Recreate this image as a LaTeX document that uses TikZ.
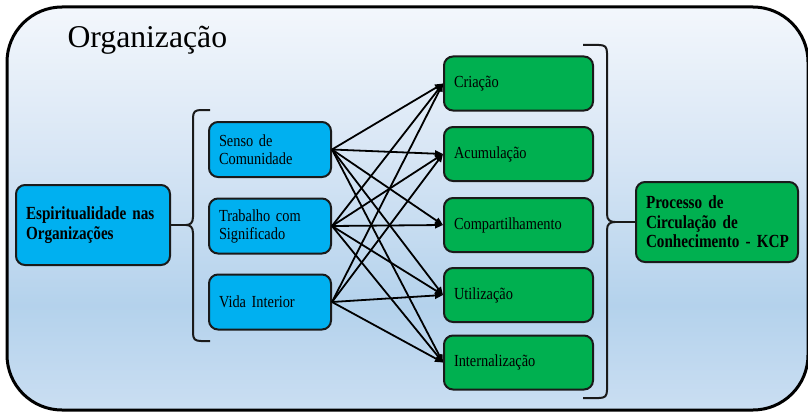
\documentclass[tikz,border=0pt]{standalone}
\usepackage{fontspec}
\setmainfont{Liberation Serif}
\newfontfamily\boxfont{Liberation Serif}[FakeStretch=0.85]
\newfontfamily\boldboxfont{Liberation Serif}[FakeStretch=0.82]
\newcommand\myregfont{\boxfont\fontsize{16.9}{18}\selectfont\spaceskip=3.6pt plus 1pt minus 0.5pt\relax}
\newcommand\myboldfont{\boldboxfont\fontsize{18.5}{19.5}\selectfont\bfseries\spaceskip=3.8pt plus 1pt minus 0.5pt\relax}
\usetikzlibrary{arrows.meta}
\definecolor{bfill}{HTML}{00B0F0}
\definecolor{gfill}{HTML}{00B050}
\definecolor{boxline}{HTML}{1A1A1A}
\definecolor{bgtop}{HTML}{F3F7FC}
\definecolor{bgupper}{HTML}{D8E6F5}
\definecolor{bgmid}{HTML}{B4D2EC}
\definecolor{bgbot}{HTML}{CADEF2}
\pgfdeclareverticalshading{orgshade}{100bp}{color(0bp)=(bgbot); color(25bp)=(bgbot); color(38bp)=(bgmid); color(57bp)=(bgupper); color(75bp)=(bgtop); color(100bp)=(bgtop)}
\tikzset{
  box/.style={draw=boxline, line width=2pt, rounded corners=9pt, inner xsep=10pt, inner ysep=0pt, align=left, font=\myregfont},
  bbox/.style={box, fill=bfill, text width=102pt, minimum height=55pt},
  gbox/.style={box, fill=gfill, text width=129pt, minimum height=54pt},
  boldtxt/.style={font=\myboldfont},
  arr/.style={line width=1.8pt, -{Triangle[length=8pt,width=6.5pt]}},
  brace/.style={line width=2pt, draw=boxline}
}
\begin{document}
\begin{tikzpicture}[x=1pt,y=-1pt]
\useasboundingbox (0,0) rectangle (808,412);
\shade[shading=orgshade, draw=black, line width=3pt, rounded corners=55pt] (7,7) rectangle (808,410);
\node[anchor=base west, font=\fontsize{31.7}{36}\selectfont] (title) at (64,48) {Organização};

\node[box, fill=bfill, boldtxt, text width=134pt, minimum height=80pt] (esp) at (93,225) {\mbox{Espiritualidade nas}\\\mbox{Organizações}};
\node[bbox] (senso) at (270,149.5) {\mbox{Senso de}\\Comunidade};
\node[bbox] (trab) at (270,226) {\mbox{Trabalho com}\\Significado};
\node[bbox] (vida) at (270,302) {\mbox{Vida Interior}};

\node[gbox] (cri) at (518.5,83.5) {Criação};
\node[gbox] (acu) at (518.5,154) {Acumulação};
\node[gbox] (comp) at (518.5,225) {Compartilhamento};
\node[gbox] (util) at (518.5,295) {Utilização};
\node[gbox] (intern) at (518.5,362.5) {Internalização};

\node[box, fill=gfill, boldtxt, text width=142pt, minimum height=80pt] (kcp) at (717,222) {\mbox{Processo de}\\\mbox{Circulação de}\\\mbox{Conhecimento - KCP}};

% left brace
\coordinate (lb) at (186,225);
\draw[brace] (210,110) -- (201,110) .. controls (195,110) and (193,112) .. (193,118) -- (193,217)
  .. controls (193,223) and (190,225) .. (lb)
  .. controls (190,225) and (193,227) .. (193,233) -- (193,333)
  .. controls (193,339) and (195,341) .. (201,341) -- (210,341);
\draw[brace] (esp.east) -- (lb);

% right brace
\coordinate (rb) at (615,222);
\draw[brace] (583,45) -- (599,45) .. controls (605,45) and (607,47) .. (607,53) -- (607,214)
  .. controls (607,220) and (610,222) .. (rb)
  .. controls (610,222) and (607,224) .. (607,230) -- (607,390)
  .. controls (607,396) and (605,398) .. (599,398) -- (583,398);
\draw[brace] (rb) -- (kcp.west);

% arrows
\foreach \s/\t in {senso/cri, senso/acu, senso/comp, senso/util, senso/intern,
                   trab/cri, trab/acu, trab/comp, trab/util, trab/intern,
                   vida/cri, vida/acu, vida/util, vida/intern}
  \draw[arr] (\s.east) -- (\t.west);
\end{tikzpicture}
\end{document}
